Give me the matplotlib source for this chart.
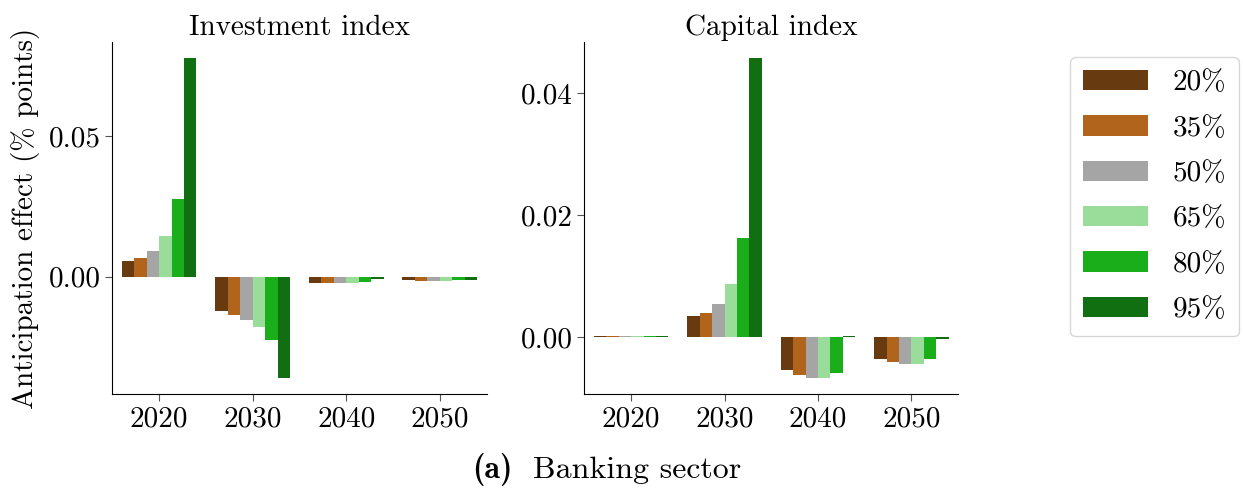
import numpy as np
import matplotlib
matplotlib.use('Agg')
import matplotlib.pyplot as plt

plt.rcParams['font.family'] = ['cmr10', 'DejaVu Serif']
plt.rcParams['mathtext.fontset'] = 'cm'
plt.rcParams['axes.formatter.use_mathtext'] = True
plt.rcParams['font.size'] = 21

# data
years = ['2020', '2030', '2040', '2050']
shares = ['20%', '35%', '50%', '65%', '80%', '95%']
colors = ['#673a10', '#b0641c', '#a5a5a5', '#9adc9a', '#1aaf1a', '#116e11']

investment = [
    [0.0057, -0.0121, -0.0021, -0.0013],
    [0.0067, -0.0135, -0.0021, -0.0014],
    [0.0092, -0.0156, -0.0021, -0.0014],
    [0.0145, -0.0181, -0.0021, -0.0014],
    [0.0277, -0.0227, -0.0018, -0.0011],
    [0.0780, -0.0362, -0.0007, -0.0011],
]
capital = [
    [0.00015, 0.0035, -0.0054, -0.0036],
    [0.00015, 0.0040, -0.0061, -0.0040],
    [0.00015, 0.0055, -0.0066, -0.0043],
    [0.00015, 0.0087, -0.0067, -0.0043],
    [0.00015, 0.0162, -0.0058, -0.0035],
    [0.00015, 0.0458, 0.00015, -0.0003],
]

fig = plt.figure(figsize=(12.43, 4.94), dpi=100)
ax1 = fig.add_axes([0.0903, 0.2018, 0.3012, 0.7138])
ax2 = fig.add_axes([0.4701, 0.2018, 0.3008, 0.7138])

x = np.arange(len(years))
w = 0.8 / len(shares)

def draw(ax, vals, title):
    for j, (lab, c) in enumerate(zip(shares, colors)):
        ax.bar(x + (j - 2.5) * w, vals[j], width=w, color=c, label=lab)
    ax.set_xticks(x)
    ax.set_xticklabels(years)
    ax.set_xlim(-0.5, 3.5)
    ax.set_title(title, fontsize=21, pad=5)
    ax.spines['top'].set_visible(False)
    ax.spines['right'].set_visible(False)
    ax.tick_params(length=5, color='#555555')

draw(ax1, investment, 'Investment index')
draw(ax2, capital, 'Capital index')
ax1.set_yticks([0.0, 0.05])
ax1.yaxis.set_major_formatter(matplotlib.ticker.FormatStrFormatter('%.2f'))
ax2.set_yticks([0.0, 0.02, 0.04])
ax2.yaxis.set_major_formatter(matplotlib.ticker.FormatStrFormatter('%.2f'))
ax1.set_ylabel('Anticipation effect (% points)', fontsize=21, labelpad=6)

handles, labels = ax1.get_legend_handles_labels()
fig.legend(handles, labels, loc='upper left', bbox_to_anchor=(0.861, 0.885),
           borderaxespad=0, fontsize=21, handlelength=2.2, handletextpad=0.85,
           labelspacing=0.65, borderpad=0.45, frameon=True, edgecolor='#cccccc')

fig.text(0.4127, 0.049, '(a)', ha='right', va='center', fontsize=23, family='cmb10')
fig.text(0.4288, 0.049, 'Banking sector', ha='left', va='center', fontsize=23)

fig.savefig('out.png', dpi=100)
